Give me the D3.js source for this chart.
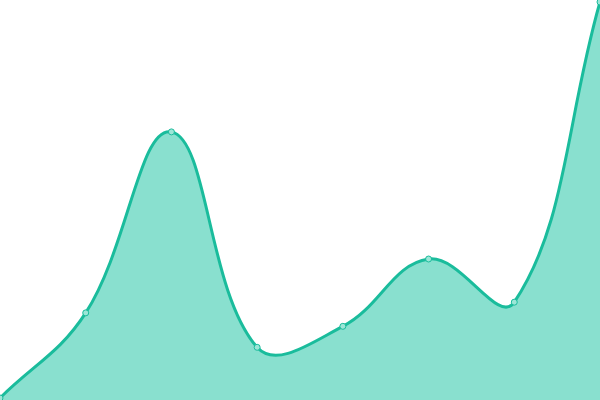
<!DOCTYPE html>
<html>
<head>
<meta charset="utf-8">
<script src="https://cdn.jsdelivr.net/npm/d3@7"></script>
<style>
  body { margin: 0; background: #fff; }
  svg { display: block; }
</style>
</head>
<body>
<div id="chart"></div>
<script>
// data
var labels = ["1", "2", "3", "4", "5", "6", "7", "8"];
var values = [0, 21.5, 67.2, 12.8, 18.1, 35.1, 24.2, 100];

var width = 600, height = 400;

/* smooth curve: control points scaled by the distance to each
   neighbour (the classic "tension 0.4" spline) */
function splineCurve(tension) {
  function Spline(context) { this._context = context; }
  Spline.prototype = {
    areaStart: function() { this._line = 0; },
    areaEnd: function() { this._line = NaN; },
    lineStart: function() { this._pts = []; },
    point: function(x, y) { this._pts.push([+x, +y]); },
    lineEnd: function() {
      var p = this._pts, n = p.length, c = this._context;
      if (n) {
        var cps = p.map(function(pt, i) {
          var prev = p[i - 1] || pt, next = p[i + 1] || pt;
          var d01 = Math.hypot(pt[0] - prev[0], pt[1] - prev[1]);
          var d12 = Math.hypot(next[0] - pt[0], next[1] - pt[1]);
          var s01 = d01 / (d01 + d12) || 0, s12 = d12 / (d01 + d12) || 0;
          var fa = tension * s01, fb = tension * s12;
          var dx = next[0] - prev[0], dy = next[1] - prev[1];
          return {
            a: [clampX(pt[0] - fa * dx), clampY(pt[1] - fa * dy)],
            b: [clampX(pt[0] + fb * dx), clampY(pt[1] + fb * dy)]
          };
        });
        if (this._line) c.lineTo(p[0][0], p[0][1]);
        else c.moveTo(p[0][0], p[0][1]);
        for (var i = 1; i < n; i++) {
          c.bezierCurveTo(cps[i - 1].b[0], cps[i - 1].b[1],
                          cps[i].a[0], cps[i].a[1], p[i][0], p[i][1]);
        }
      }
      if (this._line || (this._line !== 0 && n === 1)) c.closePath();
      this._line = 1 - this._line;
    }
  };
  return function(context) { return new Spline(context); };
}
function clampX(v) { return Math.max(0, Math.min(width, v)); }
function clampY(v) { return Math.max(0, Math.min(height, v)); }

var svg = d3.select("#chart").append("svg")
  .attr("width", width)
  .attr("height", height);

// x spans the full width, one step per label
var x = d3.scalePoint()
  .domain(labels)
  .range([0, width]);

var y = d3.scaleLinear()
  .domain([0, 100])
  .range([398, 2]);

var data = labels.map(function(l, i) { return {label: l, value: values[i]}; });

var curve = splineCurve(0.4);

var area = d3.area()
  .x(function(d) { return x(d.label); })
  .y0(height)
  .y1(function(d) { return y(d.value); })
  .curve(curve);

var line = d3.line()
  .x(function(d) { return x(d.label); })
  .y(function(d) { return y(d.value); })
  .curve(curve);

svg.append("path")
  .datum(data)
  .attr("d", area)
  .style("fill", "#89e0cf");

svg.append("path")
  .datum(data)
  .attr("d", line)
  .style("fill", "none")
  .style("stroke", "#1abc9c")
  .style("stroke-width", 3);

// point markers
svg.append("g")
  .selectAll("circle")
  .data(data)
  .enter().append("circle")
    .attr("cx", function(d) { return x(d.label); })
    .attr("cy", function(d) { return y(d.value); })
    .attr("r", 3)
    .style("fill", "#9ce6d7")
    .style("stroke", "#1abc9c")
    .style("stroke-width", 1);
</script>
</body>
</html>
